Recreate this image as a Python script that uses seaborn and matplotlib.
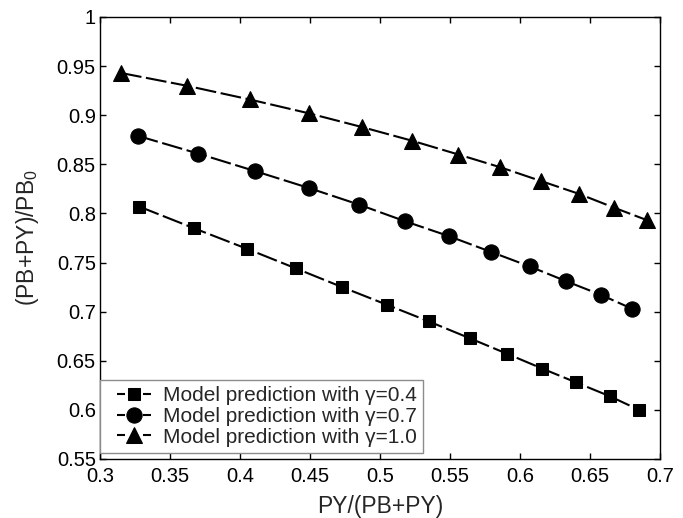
import matplotlib
matplotlib.use("Agg")
import matplotlib.pyplot as plt
import seaborn as sns
import pandas as pd

# ---- data ----
x_g04 = [0.328, 0.367, 0.405, 0.440, 0.473, 0.505, 0.535, 0.564, 0.591, 0.616, 0.640, 0.664, 0.685]
y_g04 = [0.807, 0.785, 0.764, 0.744, 0.725, 0.707, 0.690, 0.673, 0.657, 0.642, 0.628, 0.614, 0.600]

x_g07 = [0.327, 0.370, 0.411, 0.449, 0.485, 0.518, 0.549, 0.579, 0.607, 0.633, 0.658, 0.680]
y_g07 = [0.879, 0.861, 0.843, 0.826, 0.809, 0.792, 0.777, 0.761, 0.746, 0.731, 0.717, 0.703]

x_g10 = [0.315, 0.362, 0.407, 0.449, 0.487, 0.523, 0.556, 0.586, 0.615, 0.642, 0.667, 0.691]
y_g10 = [0.943, 0.930, 0.916, 0.902, 0.888, 0.874, 0.860, 0.847, 0.833, 0.820, 0.806, 0.793]

labels = ["Model prediction with \u03b3=0.4",
          "Model prediction with \u03b3=0.7",
          "Model prediction with \u03b3=1.0"]

x_ticks = [0.3, 0.35, 0.4, 0.45, 0.5, 0.55, 0.6, 0.65, 0.7]
x_ticklabels = ["0.3", "0.35", "0.4", "0.45", "0.5", "0.55", "0.6", "0.65", "0.7"]
y_ticks = [0.55, 0.6, 0.65, 0.7, 0.75, 0.8, 0.85, 0.9, 0.95, 1.0]
y_ticklabels = ["0.55", "0.6", "0.65", "0.7", "0.75", "0.8", "0.85", "0.9", "0.95", "1"]

sns.set_style("ticks")
plt.rcParams["font.family"] = ["Liberation Sans", "DejaVu Sans"]
plt.rcParams["mathtext.default"] = "regular"

fig = plt.figure(figsize=(6.83, 5.18), dpi=100)
ax = fig.add_axes([0.1464, 0.1139, 0.8199, 0.8533])

series = [
    (x_g04, y_g04, labels[0], "s", 9),
    (x_g07, y_g07, labels[1], "o", 11),
    (x_g10, y_g10, labels[2], "^", 11),
]
for xs, ys, lab, mk, ms in series:
    df = pd.DataFrame({"x": xs, "y": ys})
    sns.lineplot(data=df, x="x", y="y", ax=ax, color="black", marker=mk,
                 markersize=ms, markeredgecolor="black", markerfacecolor="black",
                 linewidth=1.5, dashes=False, label=lab, sort=False)
for line in ax.get_lines():
    line.set_linestyle((0, (10, 2.2)))

ax.set_xlim(0.3, 0.7)
ax.set_ylim(0.55, 1.0)
ax.set_xticks(x_ticks)
ax.set_xticklabels(x_ticklabels)
ax.set_yticks(y_ticks)
ax.set_yticklabels(y_ticklabels)
ax.tick_params(direction="in", length=4, width=1.0, top=True, right=True,
               labelsize=14.5, colors="black")
ax.tick_params(axis="x", pad=5.5)
ax.tick_params(axis="y", pad=3)
for sp in ax.spines.values():
    sp.set_visible(True)
    sp.set_linewidth(1.0)
    sp.set_color("black")

ax.set_xlabel("PY/(PB+PY)", fontsize=16.5, labelpad=6.5)
ax.set_ylabel("(PB+PY)/PB$_0$", fontsize=16.5, labelpad=11)

leg = ax.legend(loc="lower left", bbox_to_anchor=(0.0, 0.0136), borderaxespad=0,
                fontsize=15, fancybox=False, framealpha=1, edgecolor="0.55",
                handlelength=2.69, handletextpad=0.05, labelspacing=0.08,
                borderpad=0.3)
leg.get_frame().set_linewidth(1.0)
for hl in leg.get_lines():
    hl.set_linestyle((7.2, (3.84, 8.64)))

fig.savefig("out.png", dpi=100)
